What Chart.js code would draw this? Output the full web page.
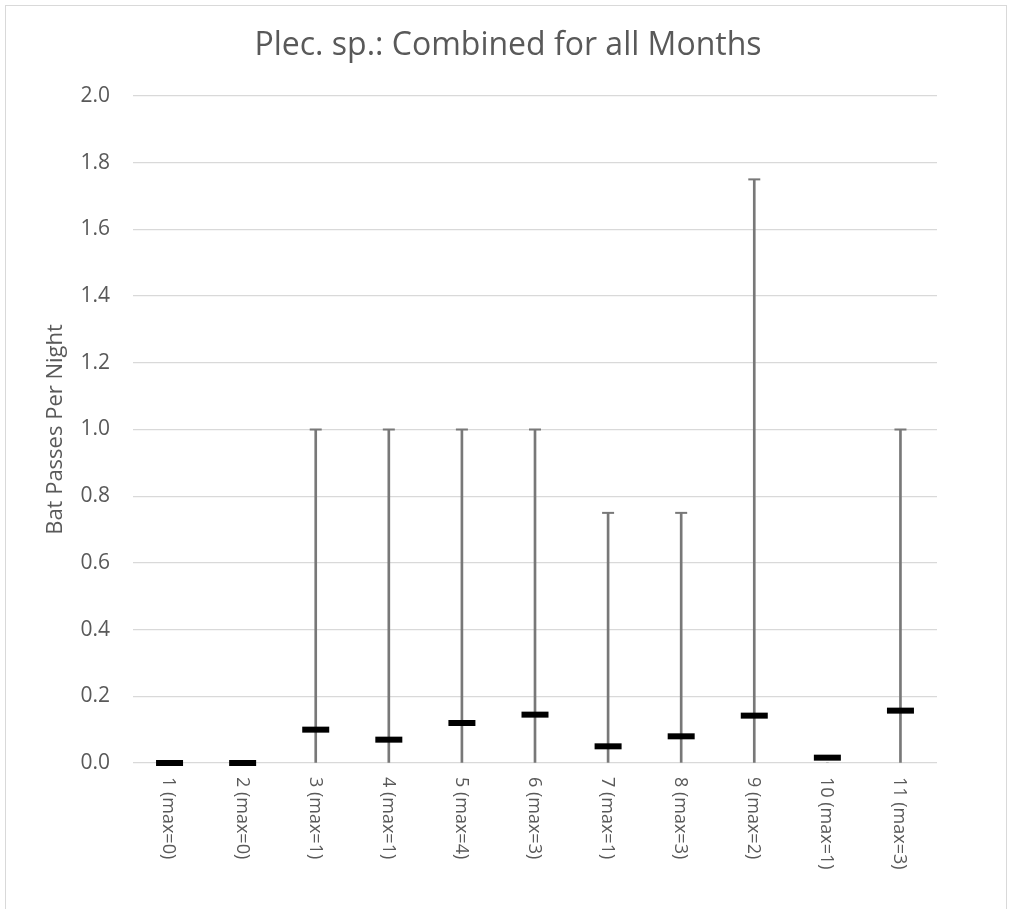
<!DOCTYPE html>
<html lang="en">
  <head>
    <meta charset="UTF-8" />
    <title>Plec. sp.</title>
    <script src="https://cdn.jsdelivr.net/npm/chart.js@4.4.0/dist/chart.umd.min.js"></script>
    <style>
      body { margin: 0; background: #fff; }
      .wrap { position: relative; width: 1011px; height: 909px; overflow: hidden; }
      .frame { position: absolute; left: 5px; top: 5px; width: 1002px; height: 920px; border: 1.5px solid #d9d9d9; box-sizing: border-box; }
      canvas { position: absolute; left: 0; top: 0; }
    </style>
  </head>
  <body>
    <div class="wrap">
      <div class="frame"></div>
      <canvas id="chart" width="1011" height="909"></canvas>
    </div>

    <script>
      //data
      const labels = ['1 (max=0)', '2 (max=0)', '3 (max=1)', '4 (max=1)', '5 (max=4)', '6 (max=3)',
                      '7 (max=1)', '8 (max=3)', '9 (max=2)', '10 (max=1)', '11 (max=3)'];
      const means = [0, 0, 0.1, 0.07, 0.12, 0.145, 0.05, 0.08, 0.142, 0.016, 0.157];
      const upper = [0, 0, 1, 1, 1, 1, 0.75, 0.75, 1.75, 0, 1];
      const chartTitle = 'Plec. sp.: Combined for all Months';

      const fontFamily = '"Open Sans", sans-serif';
      const textColor = '#595959';
      const barColor = '#787878';

      // title centred on the whole picture, and vertical category labels reading top to bottom
      const extraText = {
        id: 'extraText',
        afterDraw(chart) {
          const ctx = chart.ctx;
          const x = chart.scales.x;
          const top = chart.chartArea.bottom + 14;
          ctx.save();
          ctx.fillStyle = textColor;
          ctx.font = '32px ' + fontFamily;
          ctx.textAlign = 'center';
          ctx.textBaseline = 'middle';
          ctx.fillText(chartTitle, 508, 46);

          ctx.font = '18px ' + fontFamily;
          ctx.textAlign = 'left';
          labels.forEach(function (lab, i) {
            ctx.save();
            ctx.translate(x.getPixelForValue(i) - 1, top);
            ctx.rotate(Math.PI / 2);
            ctx.fillText(lab, 0, 0);
            ctx.restore();
          });
          ctx.restore();
        }
      };

      //config
      const config = {
        type: 'bar',
        data: {
          labels: labels,
          datasets: [
            {
              label: 'Mean',
              type: 'line',
              data: means,
              showLine: false,
              clip: false,
              pointStyle: 'line',
              radius: 13.5,
              hoverRadius: 13.5,
              borderWidth: 6,
              borderColor: '#000',
              order: 1
            },
            {
              label: 'Cap',
              type: 'line',
              data: upper.map(function (v) { return v > 0 ? v : null; }),
              showLine: false,
              pointStyle: 'line',
              radius: 6,
              hoverRadius: 6,
              borderWidth: 2,
              borderColor: barColor,
              order: 2
            },
            {
              label: 'Range',
              data: upper.map(function (v) { return [0, v]; }),
              backgroundColor: barColor,
              barThickness: 2,
              order: 3
            }
          ]
        },
        options: {
          responsive: false,
          animation: false,
          layout: { padding: { left: 22, right: 74, top: 96, bottom: 6 } },
          plugins: {
            legend: { display: false },
            tooltip: { enabled: false },
            title: { display: false }
          },
          scales: {
            x: {
              grid: { display: false },
              border: { display: false },
              ticks: { display: false },
              afterFit: function (s) { s.height = 140; }
            },
            y: {
              min: 0,
              max: 2,
              afterFit: function (s) { s.width = 111; },
              ticks: {
                stepSize: 0.2,
                color: textColor,
                padding: 23,
                font: { family: fontFamily, size: 21 },
                callback: function (v) { return v.toFixed(1); }
              },
              grid: { color: '#d9d9d9', lineWidth: 1.3, drawTicks: false },
              border: { display: false },
              title: {
                display: true,
                text: 'Bat Passes Per Night',
                color: textColor,
                font: { family: fontFamily, size: 22 },
                padding: { top: 21, bottom: 0 }
              }
            }
          }
        },
        plugins: [extraText]
      };

      //init
      const ctx = document.getElementById('chart');
      const chart = new Chart(ctx, config);
    </script>
  </body>
</html>
